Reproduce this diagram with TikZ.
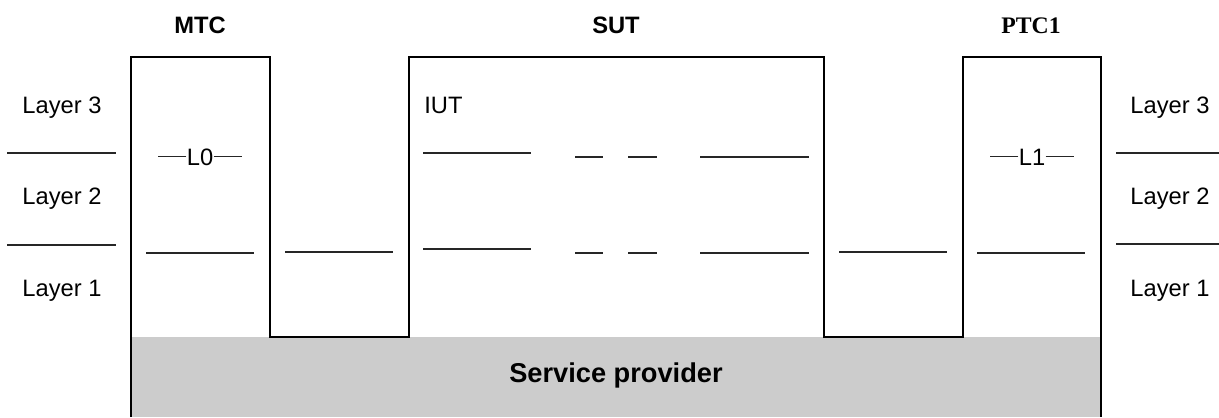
\documentclass[tikz,border=0pt]{standalone}
\usepackage{fontspec}
\setmainfont{Liberation Sans}
\newfontfamily\timesfont{Liberation Serif}
\usetikzlibrary{positioning}
\tikzset{
  txt/.style={font=\fontsize{13.5}{16}\selectfont, inner sep=0pt, anchor=base},
  head/.style={txt, font=\fontsize{13.5}{16}\selectfont\bfseries},
  wall/.style={line width=1.15pt, line join=miter},
  sep/.style={line width=0.7pt, black!85}
}

\begin{document}
\begin{tikzpicture}[x=0.02cm, y=-0.02cm]
    \useasboundingbox (0,0) rectangle (1219,417);

    % Service provider
    \fill[black!20] (131,337) rectangle (1101,417);
    \node[head, font=\fontsize{15.5}{18}\selectfont\bfseries] (SP) at (616,382) {Service provider};

    % Outline of MTC, SUT and PTC1
    \draw[wall] (131,417) -- (131,57) -- (270,57) -- (270,337) -- (409,337)
        -- (409,57) -- (824,57) -- (824,337) -- (963,337) -- (963,57)
        -- (1101,57) -- (1101,417);

    % Titles
    \node[head] (MTC) at (200,33) {MTC};
    \node[head] (SUT) at (616,33) {SUT};
    \node[head, font=\fontsize{13.5}{16}\selectfont\timesfont\bfseries] (PTC) at (1031,33) {PTC1};
    \node[txt, anchor=base west] (IUT) at (424,113) {IUT};

    % Layer labels
    \foreach \x/\s in {62/l, 1170/r} {
        \node[txt] (L3\s) at (\x,113) {Layer 3};
        \node[txt] (L2\s) at (\x,204) {Layer 2};
        \node[txt] (L1\s) at (\x,296) {Layer 1};
    }

    % Lower testers
    \node[txt] (LT0) at (200,165) {L0};
    \node[txt] (LT1) at (1032,165) {L1};
    \draw[sep] (LT0.west) -- ++(-28,0);
    \draw[sep] (LT0.east) -- ++(28,0);
    \draw[sep] (LT1.west) -- ++(-28,0);
    \draw[sep] (LT1.east) -- ++(28,0);

    % Layer boundaries
    \foreach \xa/\xb/\y in {7/116/153, 7/116/245, 146/254/253, 285/393/252,
        423/531/153, 575/603/157, 628/657/157, 700/809/157,
        423/531/249, 575/603/253, 628/657/253, 700/809/253,
        839/947/252, 977/1085/253, 1116/1219/153, 1116/1219/244}
        \draw[sep] (\xa,\y) -- (\xb,\y);
\end{tikzpicture}
\end{document}
